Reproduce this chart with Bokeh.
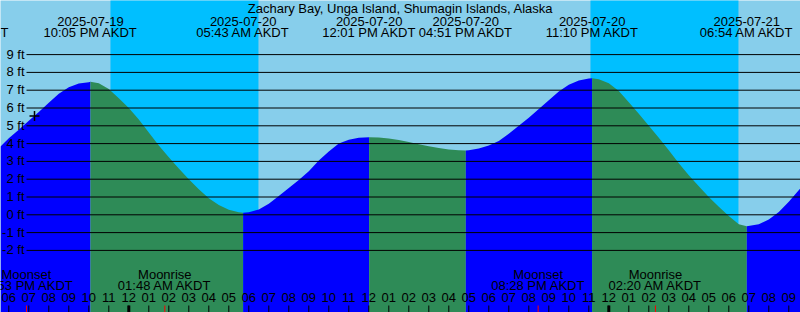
from bokeh.plotting import figure
from bokeh.models import Range1d
from bokeh.core.properties import value
from bokeh.embed import file_html
from bokeh.resources import INLINE

TITLE = "Zachary Bay, Unga Island, Shumagin Islands, Alaska"

# hours relative to 2025-07-20 00:00 AKDT, tide height in feet
tide_hours = [-6.415, -6, -5.5, -5, -4.5, -4, -3.5, -3, -2.5, -2, -1.917,
              -1.5, -1, -0.5, 0, 0.5, 1, 1.5, 2, 2.5, 3, 3.5, 4, 4.5, 5, 5.5, 5.717,
              6, 6.5, 7, 7.5, 8, 8.5, 9, 9.5, 10, 10.5, 11, 11.5, 12.017,
              12.5, 13, 13.5, 14, 14.5, 15, 15.5, 16, 16.5, 16.85,
              17, 17.5, 18, 18.5, 19, 19.5, 20, 20.5, 21, 21.5, 22, 22.5, 23, 23.167,
              23.5, 24, 24.5, 25, 25.5, 26, 26.5, 27, 27.5, 28, 28.5, 29, 29.5, 30, 30.5, 30.9,
              31.5, 32, 32.5, 33, 33.585]
tide_feet = [3.84, 4.3, 4.78, 5.28, 5.78, 6.3, 6.8, 7.16, 7.38, 7.45, 7.47,
             7.39, 7.07, 6.55, 6.0, 5.35, 4.63, 3.9, 3.23, 2.6, 2.0, 1.43, 0.93, 0.55, 0.28, 0.14, 0.11,
             0.14, 0.3, 0.62, 1.05, 1.5, 1.95, 2.45, 3.05, 3.55, 4.0, 4.22, 4.33, 4.36,
             4.34, 4.29, 4.2, 4.09, 3.97, 3.85, 3.75, 3.67, 3.62, 3.61,
             3.62, 3.72, 3.9, 4.15, 4.55, 5.0, 5.45, 5.95, 6.43, 6.93, 7.3, 7.55, 7.66, 7.67,
             7.62, 7.39, 6.95, 6.32, 5.68, 5.0, 4.33, 3.63, 2.9, 2.22, 1.6, 1.0, 0.45, -0.07, -0.53, -0.64,
             -0.53, -0.26, 0.16, 0.74, 1.5]

event_hours = [-8.33, -1.917, 5.717, 12.017, 16.85, 23.167, 30.9]
event_dates = ["2025-07-19", "2025-07-19", "2025-07-20", "2025-07-20", "2025-07-20",
               "2025-07-20", "2025-07-21"]
event_times = ["03:40 PM AKDT", "10:05 PM AKDT", "05:43 AM AKDT", "12:01 PM AKDT",
               "04:51 PM AKDT", "11:10 PM AKDT", "06:54 AM AKDT"]

moon_hours = [-5.117, 1.8, 20.467, 26.333]
moon_names = ["Moonset", "Moonrise", "Moonset", "Moonrise"]
moon_times = ["06:53 PM AKDT", "01:48 AM AKDT", "08:28 PM AKDT", "02:20 AM AKDT"]

night_start = [-0.917, 23.083]
night_end = [6.483, 30.483]

levels = [-2, -1, 0, 1, 2, 3, 4, 5, 6, 7, 8, 9]
level_labels = ["-2 ft", "-1 ft", "0 ft", "1 ft", "2 ft", "3 ft", "4 ft", "5 ft",
                "6 ft", "7 ft", "8 ft", "9 ft"]

hour_ticks = list(range(-6, 34))
hour_labels = ["06", "07", "08", "09", "10", "11",
               "12", "01", "02", "03", "04", "05", "06", "07", "08", "09", "10", "11",
               "12", "01", "02", "03", "04", "05", "06", "07", "08", "09", "10", "11",
               "12", "01", "02", "03", "04", "05", "06", "07", "08", "09"]
midnights = [0, 24]

now_hour = [-4.715]
now_feet = [5.55]

# ---- layout helpers (screen px -> data) ----
W, H = 800, 312
PX_PER_HOUR = 20.0
X0_PX = 128.3          # screen x of midnight 07-20
PX_PER_FT = 17.8
Y0_PX = 214.3          # screen y of 0 ft
TXT_SHIFT = 4.5        # baseline correction in px


def hx(sx):
    return (sx - X0_PX) / PX_PER_HOUR


def fy(sy):
    return (Y0_PX - sy) / PX_PER_FT


def fyt(sy):
    return fy(sy - TXT_SHIFT)


FONT = value("Liberation Sans")
FS = "13px"
TXT = dict(text_baseline="alphabetic", text_font=FONT, text_font_size=FS,
           text_color="black")

p = figure(width=W, height=H, output_backend="svg", toolbar_location=None,
           x_range=Range1d(hx(0), hx(W)), y_range=Range1d(fy(H), fy(0)),
           min_border=0, min_border_left=0, min_border_right=0,
           min_border_top=0, min_border_bottom=0)
p.axis.visible = False
p.grid.visible = False
p.outline_line_color = None
p.background_fill_color = "#87CEEB"
p.border_fill_color = "#87CEEB"

# night bands
p.quad(left=night_start, right=night_end, bottom=fy(H) - 5, top=fy(0) + 5,
       fill_color="#00BFFF", line_color=None)

# tide fills: rising blue, falling green
bounds = [tide_hours[0]] + [e for e in event_hours if tide_hours[0] < e < tide_hours[-1]] + [tide_hours[-1]]
for a, b in zip(bounds[:-1], bounds[1:]):
    xs = [t for t in tide_hours if a - 1e-9 <= t <= b + 1e-9]
    ys = [tide_feet[tide_hours.index(t)] for t in xs]
    col = "#0000FF" if ys[-1] > ys[0] else "#2E8B57"
    p.varea(x=xs, y1=[fy(H) - 5] * len(xs), y2=ys, fill_color=col)

# horizontal level lines
p.segment(x0=[hx(26)] * len(levels), x1=[hx(W)] * len(levels), y0=levels, y1=levels,
          line_color="black", line_width=1)

# level labels
p.text(x=[hx(24)] * len(levels), y=[l - (4 - TXT_SHIFT) / PX_PER_FT for l in levels],
       text=level_labels, text_align="right", **TXT)

# title
p.text(x=[hx(400)], y=[fyt(12)], text=[TITLE], text_align="center", **TXT)

# tide event labels
p.text(x=event_hours, y=[fyt(25)] * len(event_hours), text=event_dates,
       text_align="center", **TXT)
p.text(x=event_hours, y=[fyt(36)] * len(event_hours), text=event_times,
       text_align="center", **TXT)

# moon labels
p.text(x=moon_hours, y=[fyt(278.3)] * len(moon_hours), text=moon_names,
       text_align="center", **TXT)
p.text(x=moon_hours, y=[fyt(289.3)] * len(moon_hours), text=moon_times,
       text_align="center", **TXT)

# hour labels
p.text(x=hour_ticks, y=[fyt(301.7)] * len(hour_ticks), text=hour_labels,
       text_align="center", **TXT)

# hour ticks
p.segment(x0=hour_ticks, x1=hour_ticks, y0=[fy(305)] * len(hour_ticks),
          y1=[fy(H + 2)] * len(hour_ticks), line_color="black", line_width=1)
p.segment(x0=midnights, x1=midnights, y0=[fy(305)] * len(midnights),
          y1=[fy(H + 2)] * len(midnights), line_color="black", line_width=3)
p.segment(x0=moon_hours, x1=moon_hours, y0=[fy(305)] * len(moon_hours),
          y1=[fy(H + 2)] * len(moon_hours), line_color="red", line_width=1)

# current time marker
p.scatter(x=now_hour, y=now_feet, marker="cross", size=10, line_color="black", line_width=1.5)

open("out.html", "w").write(file_html(p, INLINE))
